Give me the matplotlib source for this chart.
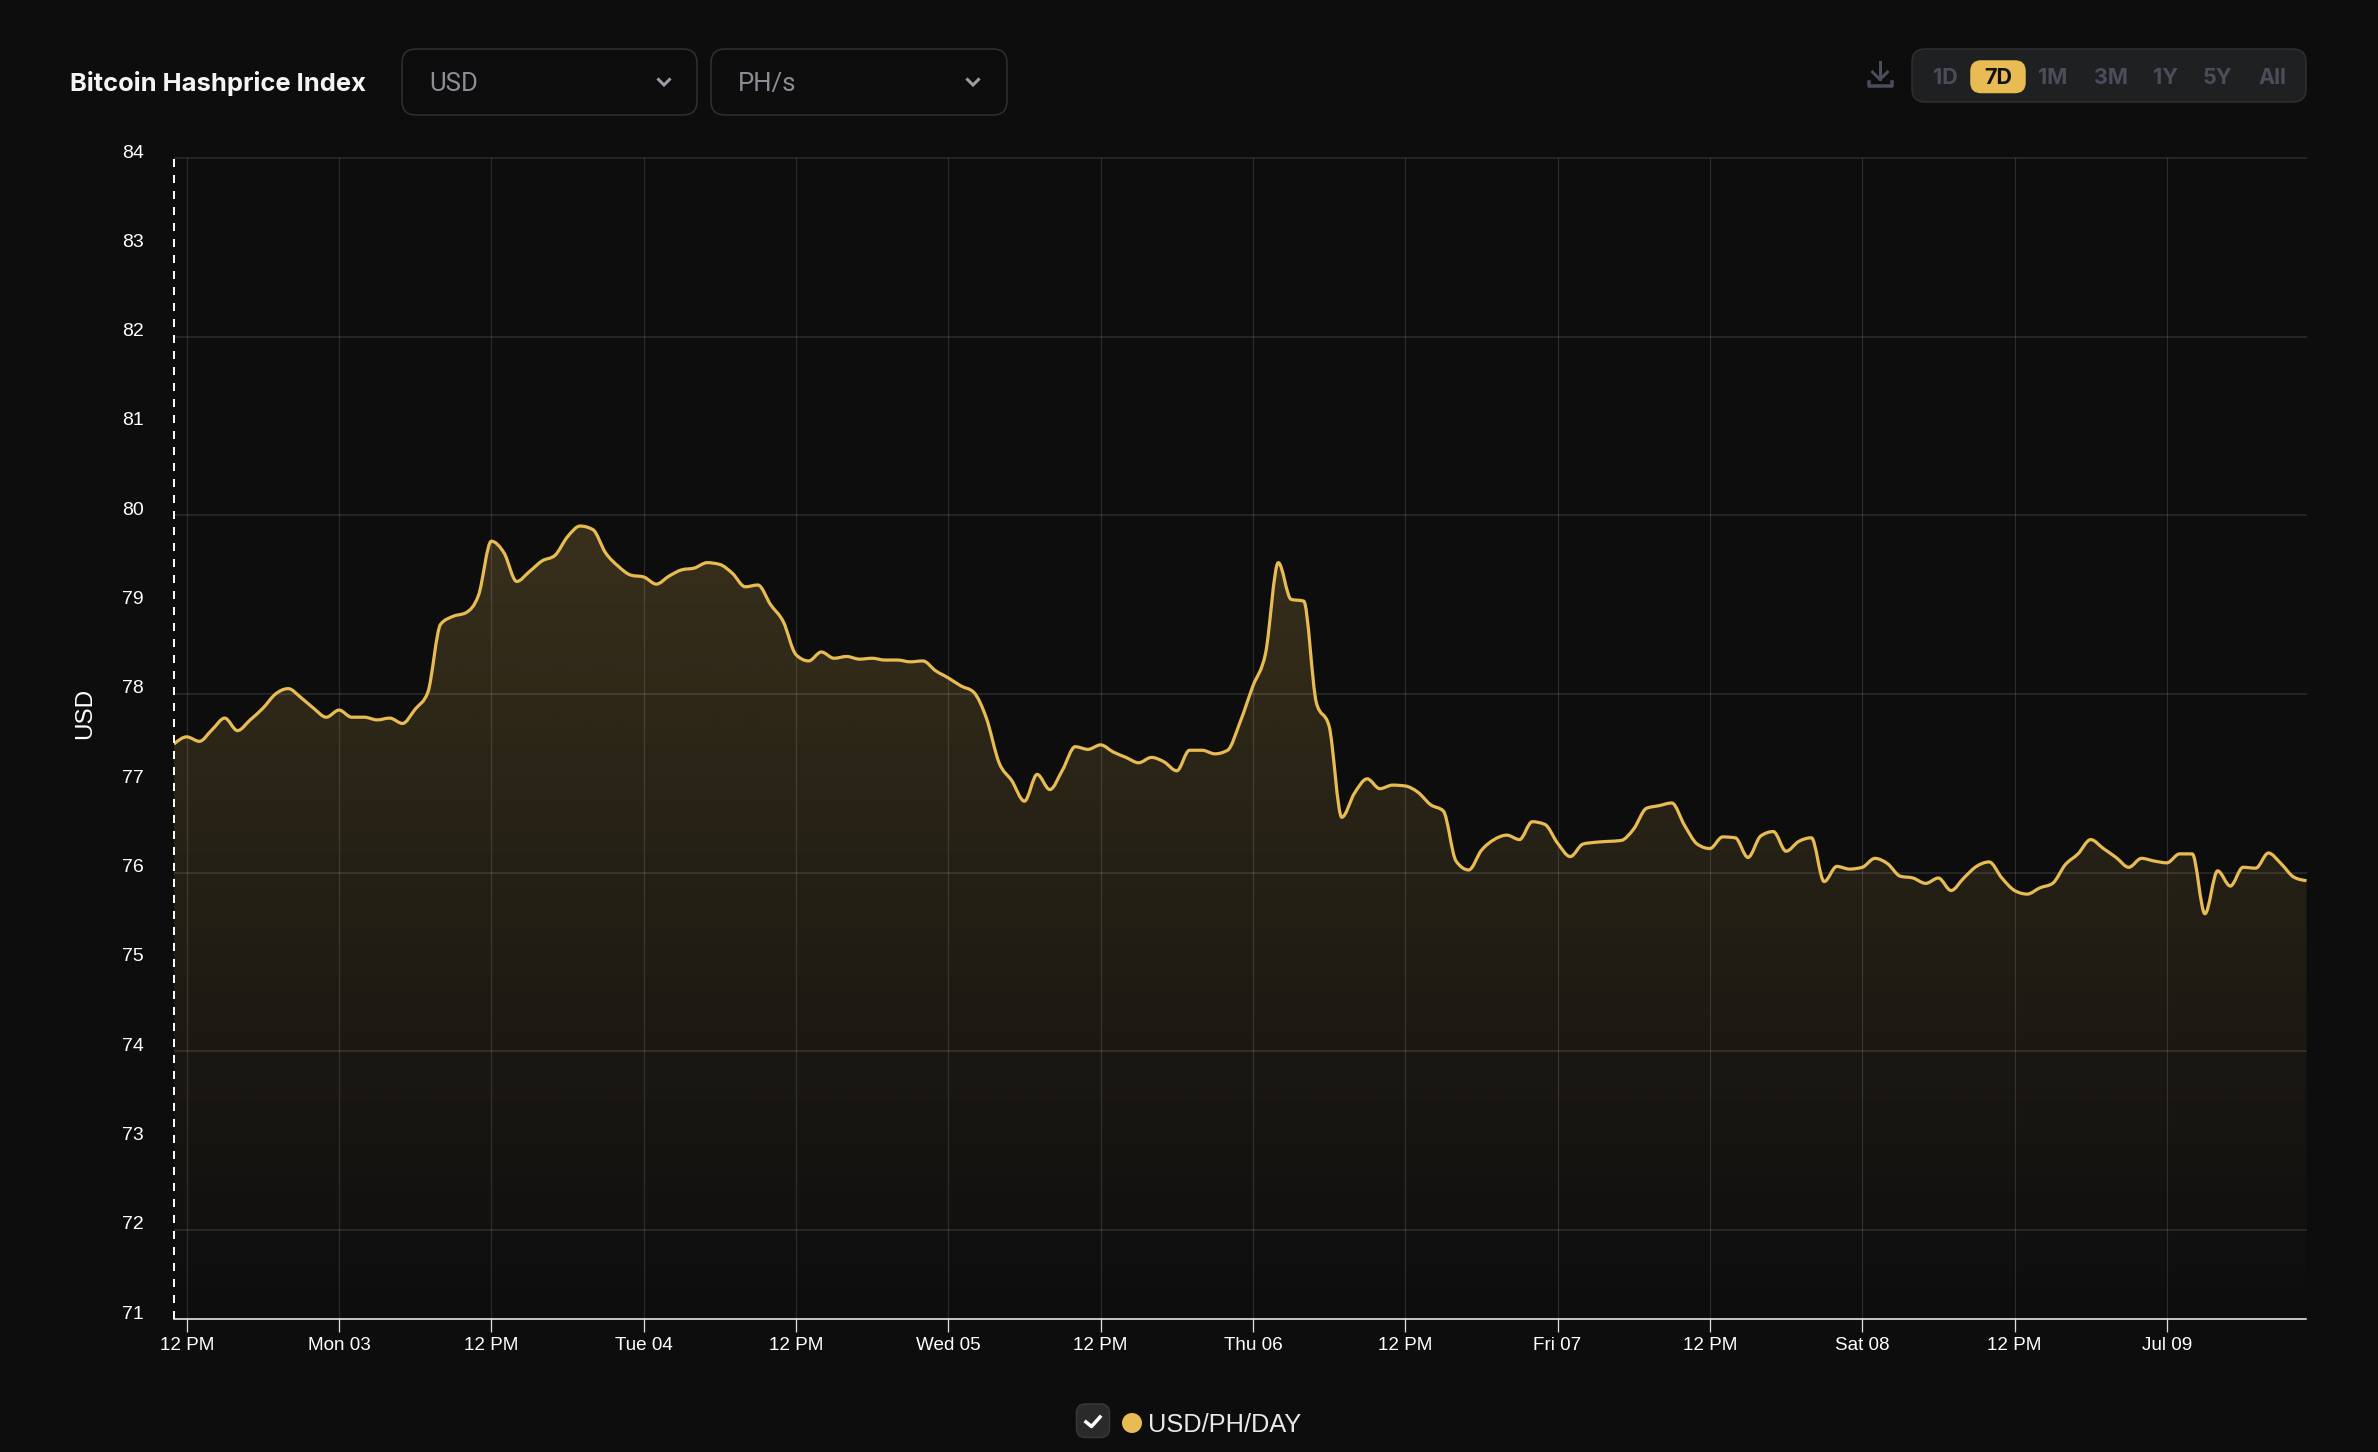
import matplotlib
matplotlib.use('Agg')
import matplotlib.pyplot as plt
import numpy as np
from matplotlib.patches import Circle, FancyBboxPatch, PathPatch
from matplotlib.path import Path
from matplotlib.transforms import ScaledTranslation

plt.rcParams['font.family'] = ['Liberation Sans', 'DejaVu Sans']

# Hourly hashprice, first point is 11 AM, one hour before the first tick
hours = np.arange(-1, 168)
usd_per_ph_day = [
    77.44, 77.52, 77.47, 77.60, 77.73, 77.59, 77.71, 77.84, 78.00, 78.06,
    77.96, 77.84, 77.74, 77.82, 77.74, 77.74, 77.71, 77.73, 77.67, 77.83,
    78.02, 78.78, 78.87, 78.91, 79.11, 79.71, 79.58, 79.26, 79.37, 79.49,
    79.55, 79.76, 79.88, 79.84, 79.58, 79.43, 79.33, 79.31, 79.23, 79.32,
    79.39, 79.41, 79.47, 79.45, 79.35, 79.20, 79.22, 79.00, 78.81, 78.44,
    78.37, 78.47, 78.40, 78.42, 78.39, 78.40, 78.38, 78.38, 78.36, 78.37,
    78.26, 78.18, 78.09, 78.02, 77.73, 77.23, 77.03, 76.80, 77.10, 76.93,
    77.15, 77.41, 77.38, 77.43, 77.35, 77.29, 77.23, 77.29, 77.24, 77.14,
    77.37, 77.37, 77.33, 77.37, 77.69, 78.09, 78.46, 79.47, 79.06, 79.04,
    77.90, 77.64, 76.62, 76.89, 77.05, 76.94, 76.98, 76.97, 76.90, 76.76,
    76.69, 76.13, 76.03, 76.25, 76.37, 76.42, 76.37, 76.57, 76.54, 76.33,
    76.18, 76.32, 76.34, 76.35, 76.36, 76.49, 76.72, 76.75, 76.78, 76.53,
    76.32, 76.27, 76.40, 76.39, 76.17, 76.41, 76.46, 76.24, 76.35, 76.39,
    75.90, 76.07, 76.04, 76.06, 76.16, 76.10, 75.96, 75.94, 75.88, 75.94,
    75.80, 75.94, 76.07, 76.12, 75.94, 75.80, 75.76, 75.83, 75.88, 76.09,
    76.21, 76.37, 76.27, 76.17, 76.06, 76.16, 76.13, 76.11, 76.21, 76.21,
    75.54, 76.02, 75.85, 76.06, 76.05, 76.22, 76.10, 75.95, 75.91,
]

x_tick_hours = list(range(0, 168, 12))
x_tick_labels = ['12 PM', 'Mon 03', '12 PM', 'Tue 04', '12 PM', 'Wed 05', '12 PM',
                 'Thu 06', '12 PM', 'Fri 07', '12 PM', 'Sat 08', '12 PM', 'Jul 09']
y_ticks = list(range(71, 85))
y_grid = [72, 74, 76, 78, 80, 82, 84]
range_buttons = ['1D', '7D', '1M', '3M', '1Y', '5Y', 'All']
range_button_x = [1945, 1998, 2052.5, 2110.7, 2165, 2217, 2272]

BG = '#0d0d0e'
GOLD = '#e8bc52'
W, H = 2378, 1452
PX = 0.72  # one pixel in points at dpi 100


def monotone_bezier(x, y):
    # same curve as d3 curveMonotoneX, returned as cubic bezier path parts
    x = np.asarray(x, float)
    y = np.asarray(y, float)
    h = np.diff(x)
    s = np.diff(y) / h
    t = np.zeros(len(x))
    for i in range(1, len(x) - 1):
        p = (s[i - 1] * h[i] + s[i] * h[i - 1]) / (h[i - 1] + h[i])
        t[i] = (np.sign(s[i - 1]) + np.sign(s[i])) * min(abs(s[i - 1]), abs(s[i]), 0.5 * abs(p))
    t[0] = (3 * s[0] - t[1]) / 2
    t[-1] = (3 * s[-1] - t[-2]) / 2
    verts = [(x[0], y[0])]
    codes = [Path.MOVETO]
    for i in range(len(x) - 1):
        d = h[i] / 3
        verts += [(x[i] + d, y[i] + d * t[i]), (x[i + 1] - d, y[i + 1] - d * t[i + 1]), (x[i + 1], y[i + 1])]
        codes += [Path.CURVE4] * 3
    return verts, codes


fig = plt.figure(figsize=(W / 100, H / 100), dpi=100, facecolor=BG)
ax = fig.add_axes([174 / W, 1 - 1319.3 / H, (2306.5 - 174) / W, (1319.3 - 158) / H], facecolor=BG)
ax.set_xlim(-1, 167)
ax.set_ylim(71, 84)

# Area under the line, fades out to the bottom
verts, codes = monotone_bezier(hours, usd_per_ph_day)
area = Path(verts + [(hours[-1], 71), (hours[0], 71), (hours[0], 71)],
            codes + [Path.LINETO, Path.LINETO, Path.CLOSEPOLY])
area_patch = PathPatch(area, facecolor='none', edgecolor='none', transform=ax.transData)
ax.add_patch(area_patch)
fade = np.zeros((256, 1, 4))
fade[..., :3] = matplotlib.colors.to_rgb(GOLD)
fade[:, 0, 3] = np.linspace(0, 0.2, 256)
im = ax.imshow(fade, extent=[-1, 167, 71, max(usd_per_ph_day)], origin='lower',
               aspect='auto', interpolation='bilinear', zorder=1)
im.set_clip_path(area_patch)
ax.set_xlim(-1, 167)
ax.set_ylim(71, 84)

# Grid
for v in y_grid:
    ax.axhline(v, color='white', alpha=0.13, lw=1.5 * PX, zorder=2, clip_on=False, solid_capstyle='butt')
for h in x_tick_hours:
    ax.axvline(h, color='white', alpha=0.13, lw=1.2 * PX, zorder=2)

ax.add_patch(PathPatch(Path(verts, codes), facecolor='none', edgecolor=GOLD, lw=3.2 * PX, zorder=3,
                       joinstyle='round'))

# Axes
for side in ['top', 'right', 'left']:
    ax.spines[side].set_visible(False)
ax.spines['bottom'].set_color('white')
ax.spines['bottom'].set_linewidth(1.5 * PX)
ax.axvline(-1, color='white', lw=2 * PX, linestyle=(0, (4, 4)), zorder=4, clip_on=False)

ax.set_xticks(x_tick_hours)
ax.set_xticklabels(x_tick_labels, fontsize=13.6, color='white')
ax.tick_params(axis='x', length=13 * PX, width=1.3 * PX, color='#dddddd', pad=5 * PX)
ax.set_yticks(y_ticks)
ax.set_yticklabels([str(v) for v in y_ticks], fontsize=14, color='white')
ax.tick_params(axis='y', length=0, pad=30 * PX)
up = ScaledTranslation(0, 7 / 100, fig.dpi_scale_trans)
for lab in ax.get_yticklabels():
    lab.set_transform(lab.get_transform() + up)
ax.set_ylabel('USD', color='white', fontsize=17.5)
ax.yaxis.set_label_coords((96 - 174) / 2132.5, (1319.3 - 713) / 1161.3)

# Page controls around the chart, in pixel coordinates
ui = fig.add_axes([0, 0, 1, 1], facecolor='none')
ui.set_xlim(0, W)
ui.set_ylim(H, 0)
ui.axis('off')


def box(x0, y0, x1, y1, r, face, edge):
    ui.add_patch(FancyBboxPatch((x0 + r, y0 + r), x1 - x0 - 2 * r, y1 - y0 - 2 * r,
                                boxstyle=f'round,pad={r},rounding_size={r}',
                                facecolor=face, edgecolor=edge, lw=1.5 * PX))


ui.text(70, 81, 'Bitcoin Hashprice Index', family='Inter', weight='bold', fontsize=18.4,
        color='#f4f4f5', va='center_baseline')

for x0, x1, text, chevron_x in [(402, 697, 'USD', 664), (711, 1007, 'PH/s', 973)]:
    box(x0, 49, x1, 115, 14, 'none', '#303133')
    ui.text(x0 + 27, 81.5, text, family='Roboto', fontsize=18.5, color='#8b8e95',
            va='center_baseline')
    ui.plot([chevron_x - 5.5, chevron_x, chevron_x + 5.5], [79.5, 85, 79.5], color='#9b9ea5',
            lw=3 * PX, solid_joinstyle='miter')

# Download icon
ICON = '#4a4e5a'
ui.plot([1880, 1880], [62, 79], color=ICON, lw=3 * PX)
ui.plot([1872.5, 1880, 1887.5], [72, 79.5, 72], color=ICON, lw=3 * PX)
ui.plot([1868.5, 1868.5, 1892, 1892], [82, 86, 86, 82], color=ICON, lw=3.5 * PX)

box(1912, 49, 2306, 102, 13, '#1f2021', '#2e2f31')
box(1971, 61, 2025, 92.5, 10, GOLD, GOLD)
for text, x in zip(range_buttons, range_button_x):
    ui.text(x, 75.7, text, family='Inter', weight='bold', fontsize=15.5, ha='center',
            va='center_baseline', color='#111111' if text == '7D' else ICON)

# Legend
box(1076.5, 1404, 1109.5, 1437.5, 9, '#2a2a2b', '#38383a')
ui.plot([1086, 1091.5, 1100], [1422, 1426.5, 1417], color='white', lw=3.5 * PX)
ui.add_patch(Circle((1132, 1423), 10, facecolor=GOLD, edgecolor='none'))
ui.text(1148.5, 1422, 'USD/PH/DAY', fontsize=18.3, color='#e9e9eb', va='center_baseline')

fig.savefig('out.png', dpi=100, facecolor=BG)
